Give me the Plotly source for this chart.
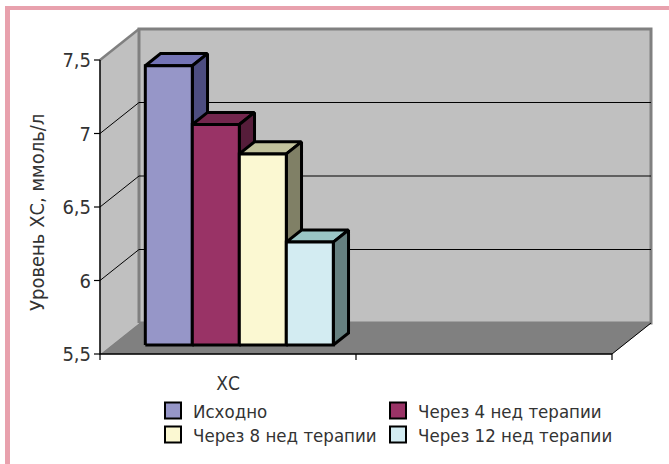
import plotly.graph_objects as go

# --- data -------------------------------------------------------------
category = "ХС"
series_names = ["Исходно", "Через 4 нед терапии", "Через 8 нед терапии", "Через 12 нед терапии"]
series_values = [7.4, 7.0, 6.8, 6.2]
y_tick_values = [5.5, 6.0, 6.5, 7.0, 7.5]
y_tick_labels = ["5,5", "6", "6,5", "7", "7,5"]

front_colors = ["#9696C8", "#993366", "#FBF8D2", "#D3ECF2"]
top_colors = ["#7474B6", "#73264D", "#C2C29C", "#9AC5C5"]
side_colors = ["#4D4D80", "#561D3A", "#808066", "#668080"]

FONT = "DejaVu Sans Condensed, Liberation Sans Narrow, sans-serif"
TEXT_COLOR = "#333333"

# --- scales: one category slot = 256 px, one unit of value = 147 px ----
W, H = 669, 464
PX_X, PX_Y = 256.0, 147.0
Y0 = y_tick_values[0]
X_LO, X_HI = -0.5, 1.5            # two category slots (the second one empty)
PAD = 8                            # room for tick marks outside the walls
ML, MT = 100 - PAD, 26
PLOT_W = (X_HI - X_LO) * PX_X + 39 + 3 + PAD
PLOT_H = 328 + PAD
MR = W - ML - PLOT_W
MB = H - MT - PLOT_H

x_range = [X_LO - PAD / PX_X, X_LO - PAD / PX_X + PLOT_W / PX_X]
y_range = [Y0 - PAD / PX_Y, Y0 - PAD / PX_Y + PLOT_H / PX_Y]


def paper_x(px):
    return (px - ML) / PLOT_W


def paper_y(py):
    return (MT + PLOT_H - py) / PLOT_H


# depth of the 3-D box
DX, DY = 39 / PX_X, 31 / PX_Y
# bars sit part way into the depth
F_FRONT, F_BAR = 0.29, 0.39
fdx, fdy = F_FRONT * DX, F_FRONT * DY
bdx, bdy = F_BAR * DX, F_BAR * DY
BAR_W = 47 / PX_X

Y_TOP = y_tick_values[-1]

fig = go.Figure()


def poly(xs, ys, fill, line_color, line_width):
    fig.add_trace(go.Scatter(
        x=xs + [xs[0]], y=ys + [ys[0]], mode="lines", fill="toself",
        fillcolor=fill, line=dict(color=line_color, width=line_width),
        showlegend=False, hoverinfo="skip"))


def line(xs, ys, color, width):
    fig.add_trace(go.Scatter(
        x=xs, y=ys, mode="lines", line=dict(color=color, width=width),
        showlegend=False, hoverinfo="skip"))


# floor
poly([X_LO, X_HI, X_HI + DX, X_LO + DX], [Y0, Y0, Y0 + DY, Y0 + DY], "#808080", "#808080", 0.5)
# left wall
poly([X_LO, X_LO, X_LO + DX, X_LO + DX], [Y0, Y_TOP, Y_TOP + DY, Y0 + DY], "#C0C0C0", "#C0C0C0", 0.5)
line([X_LO, X_LO + DX], [Y_TOP, Y_TOP + DY], "#808080", 2.5)
# back wall
poly([X_LO + DX, X_HI + DX, X_HI + DX, X_LO + DX],
     [Y0 + DY, Y0 + DY, Y_TOP + DY, Y_TOP + DY], "#C0C0C0", "#808080", 3)

# gridlines on the left and back walls
gx, gy = [], []
for t in y_tick_values[1:-1]:
    gx += [X_LO, X_LO + DX, X_HI + DX, None]
    gy += [t, t + DY, t + DY, None]
line(gx, gy, "#000000", 1)
# right edge of the floor
line([X_HI, X_HI + DX], [Y0, Y0 + DY], "#000000", 1)

# bars (front, top and side faces), painted left to right
start = 0 - len(series_values) * BAR_W / 2 + fdx
for i, v in enumerate(series_values):
    L = start + i * BAR_W
    R = L + BAR_W
    b = Y0 + fdy
    t = v + fdy
    poly([L, R, R + bdx, L + bdx], [t, t, t + bdy, t + bdy], top_colors[i], "#000000", 3)
    poly([R, R, R + bdx, R + bdx], [b, t, t + bdy, b + bdy], side_colors[i], "#000000", 3)
    poly([L, R, R, L], [b, b, t, t], front_colors[i], "#000000", 3)

# axis lines and tick marks
line([X_LO, X_LO, X_HI], [Y_TOP, Y0, Y0], "#000000", 1.5)
tx, ty = [], []
for t in y_tick_values:
    tx += [X_LO - 6 / PX_X, X_LO, None]
    ty += [t, t, None]
for xb in [X_LO, X_LO + 1, X_HI]:
    tx += [xb, xb, None]
    ty += [Y0, Y0 - 6 / PX_Y, None]
line(tx, ty, "#000000", 1.2)

# legend: one small legend per entry, laid out as a 2 x 2 grid
legend_ids = ["legend", "legend2", "legend3", "legend4"]
legend_pos = [(153, 392), (378, 392), (153, 416), (378, 416)]
for i, name in enumerate(series_names):
    fig.add_trace(go.Scatter(
        x=[None], y=[None], mode="markers", name=name, legend=legend_ids[i],
        marker=dict(symbol="square", size=16, color=front_colors[i],
                    line=dict(color="#000000", width=2))))

legend_common = dict(orientation="v", xanchor="left", yanchor="top",
                     font=dict(family=FONT, size=18.5, color=TEXT_COLOR),
                     bgcolor="rgba(0,0,0,0)")
legend_layout = {lid: dict(x=paper_x(px), y=paper_y(py), **legend_common)
                 for lid, (px, py) in zip(legend_ids, legend_pos)}

# pink frame
pc = "#E8A1AD"
fig.add_shape(type="line", xref="paper", yref="paper",
              x0=paper_x(5), x1=paper_x(W), y0=paper_y(8), y1=paper_y(8),
              line=dict(color=pc, width=4))
fig.add_shape(type="line", xref="paper", yref="paper",
              x0=paper_x(7.5), x1=paper_x(7.5), y0=paper_y(6), y1=paper_y(H),
              line=dict(color=pc, width=5))

# y-axis title
fig.add_annotation(text="Уровень ХС, ммоль/л", textangle=-90,
                   xref="paper", yref="paper", x=paper_x(37), y=paper_y(213),
                   xanchor="center", yanchor="middle",
                   showarrow=False, font=dict(family=FONT, size=20, color=TEXT_COLOR))

fig.update_layout(
    width=W, height=H,
    margin=dict(l=ML, r=MR, t=MT, b=MB, autoexpand=False),
    paper_bgcolor="white", plot_bgcolor="white",
    xaxis=dict(range=x_range, showgrid=False, zeroline=False, showline=False,
               tickvals=[0], ticktext=[category], ticks="outside", ticklen=4,
               tickcolor="rgba(0,0,0,0)",
               tickfont=dict(family=FONT, size=19, color=TEXT_COLOR)),
    yaxis=dict(range=y_range, showgrid=False, zeroline=False, showline=False,
               tickvals=y_tick_values, ticktext=y_tick_labels, ticks="",
               tickfont=dict(family=FONT, size=20, color=TEXT_COLOR)),
    showlegend=True,
    **legend_layout,
)

fig.write_html("out.html")
